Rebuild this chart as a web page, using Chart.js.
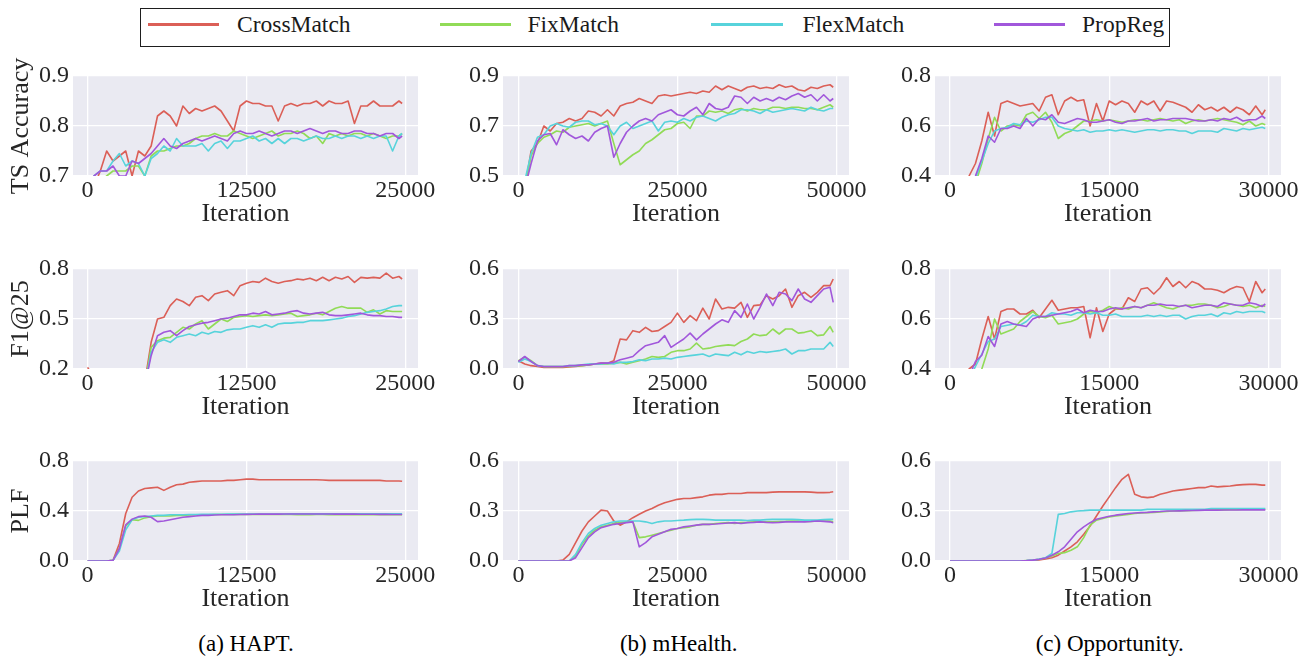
<!DOCTYPE html>
<html>
<head>
<meta charset="utf-8">
<title>Training curves</title>
<script src="https://cdn.jsdelivr.net/npm/chart.js@4.4.1/dist/chart.umd.min.js"></script>
<style>
  html, body { margin:0; padding:0; background:#ffffff; }
  body { position:relative; width:1313px; height:658px; overflow:hidden; font-family:"Liberation Serif","Times New Roman",serif; }
  canvas.panel { position:absolute; }
  #legendBox { position:absolute; left:139.5px; top:7.5px; width:1030.5px; height:39px; box-sizing:border-box; border:1.3px solid #1e1e1e; background:#fff; }
  .lgLine { position:absolute; height:2.5px; top:23.3px; }
  .lgText { position:absolute; top:13.3px; font-size:23.5px; line-height:23.5px; color:#1a1a1a; white-space:nowrap; }
  .caption { position:absolute; top:632.4px; font-size:23px; line-height:23px; color:#000; white-space:nowrap; transform:translateX(-50%); }
</style>
</head>
<body>
<div id="legendBox"></div>
<script>
// ---------------- series / categories ----------------
const seriesNames  = ['CrossMatch', 'FixMatch', 'FlexMatch', 'PropReg'];
const seriesColors = ['#db5f57', '#91db57', '#57d3db', '#a157db'];
const datasetCaptions = ['(a) HAPT.', '(b) mHealth.', '(c) Opportunity.'];
const metricTitles = ['TS Accuracy', 'F1@25', 'PLF'];
const xTitle = 'Iteration';

// ---------------- iterations (x values) ----------------
const haptIter = [0,500,1000,1500,2000,2500,3000,3500,4000,4500,5000,5500,6000,6500,7000,7500,8000,8500,9000,9500,10000,10500,11000,11500,12000,12500,13000,13500,14000,14500,15000,15500,16000,16500,17000,17500,18000,18500,19000,19500,20000,20500,21000,21500,22000,22500,23000,23500,24000,24500,24750];
const mhIter = [0,1000,2000,3000,4000,5000,6000,7000,8000,9000,10000,11000,12000,13000,14000,15000,16000,17000,18000,19000,20000,21000,22000,23000,24000,25000,26000,27000,28000,29000,30000,31000,32000,33000,34000,35000,36000,37000,38000,39000,40000,41000,42000,43000,44000,45000,46000,47000,48000,49000,49500];
const oppIter = [0,600,1200,1800,2400,3000,3600,4200,4800,5400,6000,6600,7200,7800,8400,9000,9600,10200,10800,11400,12000,12600,13200,13800,14400,15000,15600,16200,16800,17400,18000,18600,19200,19800,20400,21000,21600,22200,22800,23400,24000,24600,25200,25800,26400,27000,27600,28200,28800,29400,29700];

// ---------------- tick labels ----------------
const haptXTicks = [0, 12500, 25000];
const mhXTicks   = [0, 25000, 50000];
const oppXTicks  = [0, 15000, 30000];
const haptAccTicks = [0.7, 0.8, 0.9];
const mhAccTicks   = [0.5, 0.7, 0.9];
const oppAccTicks  = [0.4, 0.6, 0.8];
const haptF1Ticks  = [0.2, 0.5, 0.8];
const mhF1Ticks    = [0.0, 0.3, 0.6];
const oppF1Ticks   = [0.4, 0.6, 0.8];
const haptPlfTicks = [0.0, 0.4, 0.8];
const mhPlfTicks   = [0.0, 0.3, 0.6];
const oppPlfTicks  = [0.0, 0.3, 0.6];

// ---------------- HAPT: TS Accuracy ----------------
const haptAccCross = [0.65,0.68,0.71,0.75,0.73,0.74,0.75,0.70,0.75,0.74,0.76,0.82,0.83,0.82,0.80,0.84,0.825,0.835,0.83,0.835,0.84,0.83,0.81,0.79,0.84,0.85,0.845,0.845,0.84,0.84,0.81,0.84,0.845,0.84,0.845,0.845,0.85,0.84,0.85,0.845,0.845,0.85,0.805,0.84,0.84,0.85,0.84,0.84,0.84,0.85,0.845];
const haptAccFix   = [0.64,0.67,0.69,0.70,0.71,0.71,0.71,0.72,0.72,0.70,0.74,0.75,0.75,0.755,0.76,0.76,0.765,0.775,0.78,0.78,0.785,0.78,0.78,0.79,0.785,0.78,0.775,0.78,0.785,0.79,0.78,0.785,0.785,0.79,0.785,0.775,0.78,0.765,0.785,0.78,0.785,0.78,0.785,0.785,0.78,0.785,0.78,0.775,0.78,0.78,0.785];
const haptAccFlex  = [0.68,0.70,0.71,0.71,0.73,0.745,0.72,0.73,0.725,0.70,0.735,0.745,0.76,0.75,0.775,0.76,0.76,0.76,0.765,0.75,0.765,0.77,0.755,0.77,0.77,0.775,0.78,0.77,0.775,0.765,0.775,0.765,0.775,0.775,0.77,0.775,0.78,0.775,0.775,0.78,0.775,0.78,0.78,0.775,0.78,0.775,0.78,0.78,0.75,0.78,0.785];
const haptAccProp  = [0.68,0.70,0.71,0.71,0.72,0.70,0.70,0.73,0.725,0.735,0.745,0.76,0.775,0.76,0.755,0.765,0.77,0.775,0.77,0.775,0.78,0.775,0.77,0.785,0.79,0.785,0.785,0.79,0.785,0.78,0.785,0.79,0.79,0.785,0.79,0.795,0.79,0.785,0.79,0.79,0.785,0.785,0.79,0.79,0.785,0.785,0.78,0.785,0.785,0.775,0.78];

// ---------------- mHealth: TS Accuracy ----------------
const mhAccCross = [0.40,0.45,0.60,0.63,0.70,0.68,0.71,0.715,0.73,0.72,0.73,0.76,0.755,0.74,0.765,0.74,0.78,0.79,0.795,0.81,0.80,0.79,0.82,0.825,0.82,0.825,0.83,0.835,0.83,0.84,0.835,0.86,0.845,0.86,0.85,0.84,0.855,0.86,0.85,0.855,0.85,0.865,0.855,0.86,0.845,0.84,0.855,0.85,0.86,0.865,0.855];
const mhAccFix   = [0.40,0.45,0.58,0.63,0.655,0.665,0.68,0.675,0.695,0.70,0.705,0.71,0.70,0.71,0.72,0.63,0.545,0.565,0.585,0.60,0.63,0.645,0.665,0.685,0.69,0.71,0.715,0.69,0.74,0.74,0.76,0.755,0.76,0.75,0.765,0.77,0.76,0.77,0.765,0.765,0.775,0.775,0.77,0.775,0.775,0.77,0.77,0.765,0.775,0.785,0.775];
const mhAccFlex  = [0.40,0.48,0.59,0.655,0.665,0.70,0.71,0.70,0.695,0.715,0.72,0.72,0.705,0.71,0.70,0.665,0.70,0.715,0.69,0.70,0.71,0.72,0.68,0.715,0.72,0.715,0.73,0.72,0.735,0.74,0.73,0.72,0.735,0.745,0.75,0.765,0.765,0.76,0.75,0.765,0.755,0.76,0.765,0.77,0.765,0.76,0.775,0.765,0.76,0.77,0.77];
const mhAccProp  = [0.40,0.45,0.55,0.64,0.665,0.67,0.625,0.685,0.665,0.65,0.66,0.64,0.675,0.69,0.70,0.575,0.63,0.675,0.70,0.72,0.73,0.72,0.745,0.755,0.765,0.745,0.74,0.76,0.775,0.745,0.79,0.77,0.765,0.775,0.82,0.815,0.79,0.815,0.80,0.81,0.80,0.815,0.805,0.82,0.83,0.815,0.825,0.80,0.825,0.80,0.81];

// ---------------- Opportunity: TS Accuracy ----------------
const oppAccCross = [0.25,0.30,0.35,0.40,0.45,0.54,0.655,0.56,0.69,0.70,0.69,0.68,0.685,0.69,0.66,0.715,0.725,0.645,0.70,0.715,0.70,0.705,0.60,0.69,0.62,0.70,0.685,0.70,0.69,0.655,0.70,0.685,0.70,0.66,0.70,0.695,0.685,0.675,0.655,0.685,0.665,0.675,0.66,0.675,0.655,0.675,0.665,0.645,0.68,0.645,0.665];
const oppAccFix   = [0.25,0.28,0.31,0.34,0.37,0.45,0.55,0.635,0.58,0.60,0.605,0.60,0.645,0.655,0.63,0.655,0.615,0.55,0.57,0.58,0.60,0.62,0.62,0.625,0.62,0.625,0.62,0.615,0.62,0.625,0.625,0.62,0.625,0.63,0.625,0.62,0.625,0.61,0.62,0.625,0.62,0.625,0.63,0.625,0.62,0.615,0.605,0.62,0.60,0.61,0.605];
const oppAccFlex  = [0.24,0.27,0.30,0.34,0.39,0.46,0.53,0.58,0.59,0.595,0.61,0.605,0.62,0.615,0.625,0.635,0.635,0.60,0.59,0.585,0.58,0.585,0.575,0.58,0.58,0.585,0.58,0.585,0.58,0.575,0.58,0.585,0.585,0.58,0.585,0.585,0.58,0.58,0.57,0.58,0.58,0.58,0.575,0.59,0.585,0.58,0.59,0.585,0.59,0.595,0.59];
const oppAccProp  = [0.24,0.27,0.30,0.34,0.40,0.47,0.56,0.535,0.59,0.59,0.60,0.59,0.63,0.60,0.63,0.625,0.645,0.615,0.61,0.62,0.63,0.625,0.615,0.615,0.62,0.625,0.615,0.61,0.62,0.62,0.625,0.63,0.62,0.625,0.625,0.63,0.63,0.63,0.625,0.62,0.62,0.625,0.62,0.63,0.625,0.635,0.62,0.625,0.625,0.64,0.63];

// ---------------- HAPT: F1@25 ----------------
const haptF1Cross = [0.21,0.15,0.1,0.1,0.1,0.1,0.1,0.1,0.1,0.12,0.36,0.50,0.51,0.58,0.62,0.605,0.58,0.63,0.64,0.61,0.65,0.66,0.67,0.64,0.70,0.715,0.725,0.72,0.745,0.725,0.715,0.725,0.73,0.74,0.735,0.745,0.73,0.75,0.73,0.75,0.74,0.755,0.72,0.75,0.745,0.75,0.745,0.775,0.745,0.755,0.74];
const haptF1Fix   = [0.1,0.1,0.1,0.1,0.1,0.1,0.1,0.1,0.1,0.1,0.33,0.37,0.385,0.39,0.42,0.45,0.44,0.47,0.49,0.44,0.47,0.50,0.485,0.51,0.515,0.52,0.515,0.52,0.525,0.52,0.525,0.53,0.535,0.515,0.52,0.525,0.535,0.525,0.545,0.565,0.575,0.565,0.565,0.565,0.54,0.555,0.53,0.55,0.545,0.545,0.545];
const haptF1Flex  = [0.1,0.1,0.1,0.1,0.1,0.1,0.1,0.1,0.1,0.1,0.30,0.36,0.375,0.36,0.39,0.40,0.41,0.40,0.42,0.41,0.425,0.42,0.435,0.44,0.44,0.45,0.46,0.45,0.465,0.45,0.47,0.475,0.475,0.48,0.48,0.49,0.49,0.49,0.495,0.50,0.505,0.515,0.52,0.53,0.54,0.545,0.55,0.56,0.575,0.58,0.58];
const haptF1Prop  = [0.1,0.1,0.1,0.1,0.1,0.1,0.1,0.1,0.1,0.1,0.28,0.40,0.42,0.43,0.40,0.43,0.455,0.465,0.475,0.48,0.49,0.50,0.505,0.515,0.525,0.525,0.535,0.53,0.545,0.525,0.53,0.535,0.545,0.55,0.535,0.53,0.535,0.54,0.525,0.52,0.52,0.525,0.53,0.535,0.525,0.52,0.52,0.515,0.515,0.51,0.51];

// ---------------- mHealth: F1@25 ----------------
const mhF1Cross = [0.05,0.03,0.02,0.015,0.01,0.01,0.01,0.01,0.012,0.015,0.02,0.025,0.03,0.035,0.035,0.05,0.18,0.175,0.23,0.22,0.25,0.225,0.23,0.255,0.28,0.335,0.28,0.32,0.29,0.365,0.30,0.42,0.36,0.37,0.365,0.40,0.31,0.38,0.385,0.44,0.42,0.44,0.48,0.37,0.44,0.46,0.43,0.46,0.50,0.50,0.54];
const mhF1Fix   = [0.05,0.07,0.05,0.02,0.015,0.015,0.015,0.015,0.015,0.02,0.02,0.025,0.03,0.03,0.03,0.035,0.04,0.03,0.04,0.05,0.06,0.075,0.07,0.075,0.10,0.11,0.11,0.12,0.155,0.12,0.125,0.135,0.14,0.145,0.14,0.165,0.18,0.21,0.20,0.205,0.24,0.21,0.24,0.24,0.215,0.22,0.23,0.20,0.205,0.255,0.22];
const mhF1Flex  = [0.04,0.06,0.045,0.02,0.015,0.015,0.015,0.015,0.02,0.02,0.025,0.03,0.03,0.03,0.035,0.03,0.04,0.04,0.045,0.055,0.05,0.06,0.06,0.065,0.06,0.07,0.075,0.08,0.085,0.09,0.075,0.09,0.085,0.08,0.10,0.085,0.105,0.095,0.105,0.10,0.105,0.11,0.12,0.09,0.11,0.11,0.12,0.12,0.12,0.16,0.135];
const mhF1Prop  = [0.045,0.075,0.045,0.02,0.015,0.015,0.015,0.015,0.02,0.02,0.025,0.025,0.03,0.035,0.035,0.04,0.055,0.065,0.075,0.11,0.14,0.15,0.16,0.20,0.13,0.155,0.18,0.215,0.175,0.21,0.24,0.27,0.295,0.28,0.35,0.31,0.39,0.30,0.37,0.45,0.38,0.46,0.45,0.41,0.48,0.42,0.40,0.44,0.48,0.49,0.40];

// ---------------- Opportunity: F1@25 ----------------
const oppF1Cross = [0.25,0.28,0.33,0.40,0.42,0.52,0.61,0.52,0.63,0.64,0.64,0.62,0.62,0.635,0.605,0.64,0.675,0.635,0.64,0.645,0.645,0.65,0.525,0.645,0.55,0.62,0.64,0.64,0.685,0.67,0.72,0.725,0.70,0.725,0.765,0.73,0.75,0.725,0.75,0.74,0.72,0.72,0.715,0.705,0.72,0.73,0.725,0.67,0.75,0.705,0.72];
const oppF1Fix   = [0.25,0.27,0.30,0.33,0.37,0.40,0.48,0.60,0.54,0.55,0.56,0.59,0.61,0.63,0.61,0.605,0.615,0.58,0.585,0.59,0.60,0.62,0.63,0.625,0.635,0.65,0.64,0.645,0.64,0.65,0.645,0.655,0.665,0.655,0.645,0.64,0.65,0.655,0.655,0.66,0.66,0.655,0.645,0.65,0.66,0.655,0.65,0.655,0.645,0.655,0.65];
const oppF1Flex  = [0.25,0.28,0.32,0.36,0.41,0.46,0.51,0.52,0.57,0.575,0.58,0.575,0.59,0.615,0.61,0.61,0.625,0.62,0.62,0.615,0.625,0.625,0.62,0.625,0.615,0.615,0.62,0.61,0.61,0.61,0.61,0.615,0.61,0.615,0.61,0.615,0.615,0.60,0.61,0.615,0.615,0.62,0.61,0.625,0.62,0.63,0.625,0.63,0.63,0.63,0.625];
const oppF1Prop  = [0.25,0.28,0.32,0.37,0.43,0.455,0.53,0.49,0.58,0.59,0.58,0.575,0.57,0.60,0.61,0.61,0.615,0.62,0.625,0.63,0.64,0.625,0.635,0.63,0.63,0.64,0.645,0.64,0.645,0.65,0.645,0.655,0.655,0.66,0.655,0.655,0.65,0.655,0.645,0.65,0.655,0.655,0.65,0.665,0.66,0.655,0.655,0.665,0.66,0.65,0.66];

// ---------------- HAPT: PLF ----------------
const haptPlfCross = [0,0,0,0,0.005,0.14,0.38,0.51,0.56,0.58,0.585,0.59,0.565,0.59,0.61,0.615,0.63,0.635,0.64,0.64,0.64,0.64,0.645,0.645,0.65,0.655,0.655,0.65,0.65,0.65,0.65,0.65,0.65,0.65,0.65,0.65,0.65,0.648,0.645,0.645,0.645,0.645,0.645,0.645,0.645,0.645,0.645,0.64,0.64,0.64,0.638];
const haptPlfFix   = [0,0,0,0,0.005,0.10,0.28,0.33,0.325,0.345,0.355,0.36,0.36,0.36,0.365,0.365,0.368,0.37,0.37,0.37,0.372,0.372,0.372,0.373,0.373,0.372,0.373,0.373,0.372,0.372,0.373,0.372,0.372,0.371,0.371,0.371,0.372,0.372,0.371,0.37,0.37,0.371,0.371,0.37,0.37,0.37,0.37,0.37,0.37,0.37,0.37];
const haptPlfFlex  = [0,0,0,0,0.005,0.08,0.25,0.33,0.35,0.355,0.36,0.365,0.365,0.37,0.37,0.37,0.372,0.372,0.373,0.373,0.374,0.374,0.375,0.375,0.375,0.375,0.376,0.376,0.376,0.376,0.376,0.376,0.377,0.377,0.377,0.377,0.377,0.377,0.377,0.377,0.377,0.378,0.378,0.378,0.378,0.378,0.378,0.378,0.378,0.378,0.378];
const haptPlfProp  = [0,0,0,0,0.005,0.10,0.29,0.335,0.355,0.36,0.35,0.315,0.32,0.33,0.34,0.35,0.355,0.36,0.365,0.365,0.368,0.37,0.37,0.37,0.372,0.373,0.374,0.375,0.375,0.375,0.375,0.376,0.376,0.376,0.376,0.376,0.376,0.376,0.376,0.375,0.375,0.375,0.375,0.374,0.374,0.374,0.373,0.373,0.372,0.372,0.372];

// ---------------- mHealth: PLF ----------------
const mhPlfCross = [0,0,0,0,0,0,0,0.005,0.04,0.11,0.18,0.235,0.27,0.305,0.30,0.24,0.215,0.235,0.26,0.28,0.30,0.315,0.335,0.35,0.36,0.37,0.375,0.375,0.38,0.385,0.395,0.40,0.40,0.405,0.405,0.405,0.41,0.41,0.41,0.41,0.413,0.415,0.415,0.415,0.415,0.415,0.413,0.41,0.41,0.412,0.415];
const mhPlfFix   = [0,0,0,0,0,0,0,0,0,0.03,0.10,0.15,0.185,0.205,0.215,0.225,0.23,0.235,0.235,0.14,0.145,0.155,0.165,0.175,0.185,0.195,0.20,0.205,0.215,0.22,0.22,0.225,0.228,0.23,0.225,0.23,0.232,0.235,0.235,0.235,0.235,0.237,0.238,0.24,0.24,0.237,0.237,0.24,0.24,0.24,0.235];
const mhPlfFlex  = [0,0,0,0,0,0,0,0,0,0.04,0.11,0.165,0.195,0.215,0.225,0.235,0.24,0.24,0.24,0.24,0.235,0.225,0.235,0.24,0.24,0.243,0.245,0.248,0.25,0.25,0.248,0.245,0.245,0.245,0.245,0.245,0.243,0.245,0.245,0.248,0.25,0.25,0.25,0.25,0.248,0.245,0.245,0.245,0.248,0.25,0.25];
const mhPlfProp  = [0,0,0,0,0,0,0,0,0,0.02,0.08,0.14,0.175,0.20,0.21,0.22,0.225,0.23,0.235,0.085,0.11,0.145,0.16,0.175,0.19,0.195,0.205,0.21,0.215,0.22,0.22,0.222,0.225,0.228,0.23,0.225,0.23,0.232,0.235,0.232,0.23,0.232,0.235,0.235,0.235,0.235,0.237,0.24,0.238,0.235,0.23];

// ---------------- Opportunity: PLF ----------------
const oppPlfCross = [0,0,0,0,0,0,0,0,0,0,0,0,0,0.003,0.006,0.012,0.02,0.035,0.06,0.085,0.115,0.16,0.21,0.27,0.33,0.385,0.44,0.49,0.52,0.40,0.385,0.38,0.385,0.40,0.41,0.42,0.425,0.43,0.435,0.44,0.44,0.45,0.445,0.448,0.45,0.455,0.458,0.46,0.46,0.455,0.455];
const oppPlfFix   = [0,0,0,0,0,0,0,0,0,0,0,0,0.003,0.006,0.01,0.018,0.03,0.045,0.05,0.065,0.085,0.14,0.215,0.245,0.255,0.265,0.27,0.275,0.28,0.285,0.288,0.29,0.292,0.295,0.297,0.30,0.30,0.302,0.303,0.305,0.305,0.306,0.307,0.307,0.308,0.308,0.309,0.309,0.31,0.31,0.31];
const oppPlfFlex  = [0,0,0,0,0,0,0,0,0,0,0,0,0.002,0.005,0.012,0.02,0.045,0.28,0.285,0.295,0.30,0.302,0.305,0.305,0.305,0.305,0.305,0.305,0.305,0.305,0.305,0.31,0.31,0.31,0.31,0.31,0.31,0.31,0.31,0.31,0.31,0.315,0.315,0.315,0.315,0.315,0.315,0.315,0.315,0.315,0.315];
const oppPlfProp  = [0,0,0,0,0,0,0,0,0,0,0,0,0.002,0.005,0.01,0.018,0.035,0.055,0.085,0.13,0.175,0.205,0.23,0.25,0.26,0.268,0.275,0.28,0.285,0.288,0.29,0.292,0.295,0.297,0.30,0.30,0.301,0.302,0.303,0.304,0.305,0.305,0.305,0.306,0.306,0.306,0.307,0.307,0.307,0.307,0.307];

// ---------------- panel wiring ----------------
const panels = [
  { row:0, col:0, x:haptIter, xTicks:haptXTicks, yTicks:haptAccTicks, series:[haptAccCross,haptAccFix,haptAccFlex,haptAccProp] },
  { row:0, col:1, x:mhIter,   xTicks:mhXTicks,   yTicks:mhAccTicks,   series:[mhAccCross,mhAccFix,mhAccFlex,mhAccProp] },
  { row:0, col:2, x:oppIter,  xTicks:oppXTicks,  yTicks:oppAccTicks,  series:[oppAccCross,oppAccFix,oppAccFlex,oppAccProp] },
  { row:1, col:0, x:haptIter, xTicks:haptXTicks, yTicks:haptF1Ticks,  series:[haptF1Cross,haptF1Fix,haptF1Flex,haptF1Prop] },
  { row:1, col:1, x:mhIter,   xTicks:mhXTicks,   yTicks:mhF1Ticks,    series:[mhF1Cross,mhF1Fix,mhF1Flex,mhF1Prop] },
  { row:1, col:2, x:oppIter,  xTicks:oppXTicks,  yTicks:oppF1Ticks,   series:[oppF1Cross,oppF1Fix,oppF1Flex,oppF1Prop] },
  { row:2, col:0, x:haptIter, xTicks:haptXTicks, yTicks:haptPlfTicks, series:[haptPlfCross,haptPlfFix,haptPlfFlex,haptPlfProp] },
  { row:2, col:1, x:mhIter,   xTicks:mhXTicks,   yTicks:mhPlfTicks,   series:[mhPlfCross,mhPlfFix,mhPlfFlex,mhPlfProp] },
  { row:2, col:2, x:oppIter,  xTicks:oppXTicks,  yTicks:oppPlfTicks,  series:[oppPlfCross,oppPlfFix,oppPlfFlex,oppPlfProp] }
];

// ---------------- layout / style ----------------
const colPlotLeft  = [73, 503, 935];
const colPlotWidth = [345, 346, 346];
const colXRange    = [[-1150, 26000], [-2420, 51980], [-1410, 31180]];
const rowPlotTop   = [76, 269, 461];
const plotHeight   = 100;
const AXIS_W = 73, PAD_TOP = 24, PAD_RIGHT = 26, AXIS_H = 54;
const FONT = '"Liberation Serif", "Times New Roman", serif';
const TEXT_COLOR = '#262626';
const captionCenters = [246, 678.7, 1109.7];
const legendLineX = [[148, 219], [440, 511], [711, 783], [994, 1065]];
const legendTextX = [237, 527.5, 802.5, 1082];

const facePlugin = {
  id: 'face',
  beforeDraw(chart) {
    const a = chart.chartArea, ctx = chart.ctx;
    ctx.save();
    ctx.fillStyle = '#eaeaf2';
    ctx.fillRect(a.left, a.top, a.right - a.left, a.bottom - a.top);
    ctx.restore();
  }
};

panels.forEach(p => {
  const W = AXIS_W + colPlotWidth[p.col] + PAD_RIGHT;
  const H = PAD_TOP + plotHeight + AXIS_H;
  const cv = document.createElement('canvas');
  cv.className = 'panel';
  cv.width = W; cv.height = H;
  cv.style.width = W + 'px'; cv.style.height = H + 'px';
  cv.style.left = (colPlotLeft[p.col] - AXIS_W) + 'px';
  cv.style.top = (rowPlotTop[p.row] - PAD_TOP) + 'px';
  document.body.appendChild(cv);

  const datasets = p.series.map((vals, k) => ({
    label: seriesNames[k],
    data: p.x.map((xv, i) => ({ x: xv, y: vals[i] })),
    borderColor: seriesColors[k],
    backgroundColor: seriesColors[k],
    borderWidth: 1.6,
    borderJoinStyle: 'round',
    pointRadius: 0,
    tension: 0,
    fill: false,
    order: 3 - k
  }));
  const yt = p.yTicks;
  new Chart(cv, {
    type: 'line',
    data: { datasets },
    options: {
      responsive: false,
      animation: false,
      devicePixelRatio: 1,
      layout: { padding: { top: PAD_TOP, right: PAD_RIGHT, left: 0, bottom: 0 } },
      plugins: { legend: { display: false }, tooltip: { enabled: false } },
      scales: {
        x: {
          type: 'linear',
          min: colXRange[p.col][0], max: colXRange[p.col][1],
          afterBuildTicks: s => { s.ticks = p.xTicks.map(v => ({ value: v })); },
          afterFit: s => { s.height = AXIS_H; s.paddingLeft = 0; s.paddingRight = 0; },
          ticks: { autoSkip: false, maxRotation: 0, minRotation: 0, padding: 0, color: TEXT_COLOR,
                   font: { family: FONT, size: 24 }, callback: v => String(v) },
          grid: { color: '#ffffff', lineWidth: 1.3, drawTicks: false },
          border: { display: false },
          title: { display: true, text: xTitle, color: TEXT_COLOR, font: { family: FONT, size: 26 },
                   padding: { top: 0, bottom: 0 } }
        },
        y: {
          type: 'linear',
          min: yt[0], max: yt[yt.length - 1],
          afterBuildTicks: s => { s.ticks = yt.map(v => ({ value: v })); },
          afterFit: s => { s.width = AXIS_W; s.paddingTop = 0; s.paddingBottom = 0; },
          ticks: { padding: 4, color: TEXT_COLOR, font: { family: FONT, size: 24 }, callback: v => Number(v).toFixed(1) },
          grid: { color: '#ffffff', lineWidth: 1.3, drawTicks: false },
          border: { display: false },
          title: { display: p.col === 0, text: metricTitles[p.row], color: TEXT_COLOR,
                   font: { family: FONT, size: 26 }, padding: { top: 6, bottom: 0 } }
        }
      }
    },
    plugins: [facePlugin]
  });
});

// ---------------- legend (HTML) ----------------
seriesNames.forEach((name, k) => {
  const ln = document.createElement('div');
  ln.className = 'lgLine';
  ln.style.left = legendLineX[k][0] + 'px';
  ln.style.width = (legendLineX[k][1] - legendLineX[k][0]) + 'px';
  ln.style.background = seriesColors[k];
  document.body.appendChild(ln);
  const tx = document.createElement('div');
  tx.className = 'lgText';
  tx.style.left = legendTextX[k] + 'px';
  tx.textContent = name;
  document.body.appendChild(tx);
});

// ---------------- captions ----------------
datasetCaptions.forEach((c, k) => {
  const d = document.createElement('div');
  d.className = 'caption';
  d.style.left = captionCenters[k] + 'px';
  d.textContent = c;
  document.body.appendChild(d);
});
</script>
</body>
</html>
